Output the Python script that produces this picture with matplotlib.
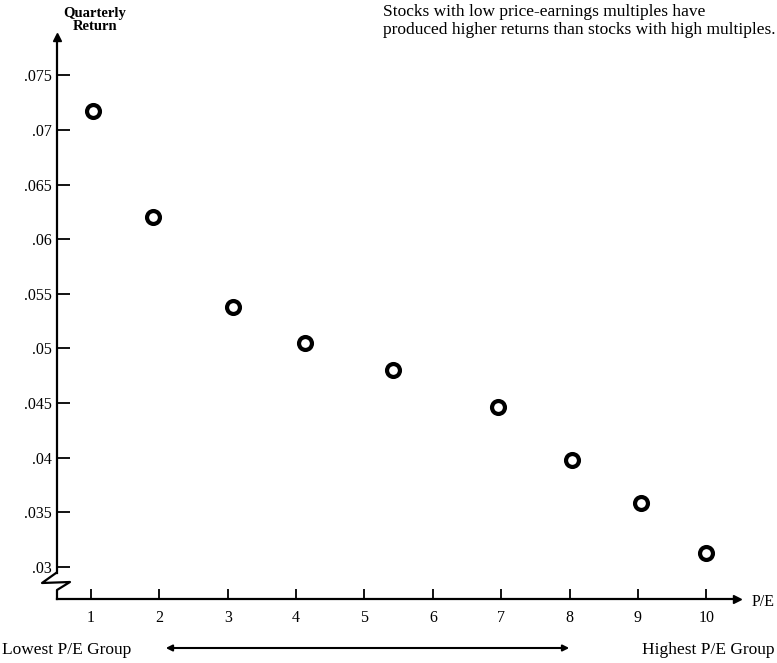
import matplotlib
matplotlib.use("Agg")
import matplotlib.pyplot as plt

# P/E group position and quarterly return
pe_group = [1.03, 1.90, 3.08, 4.13, 5.42, 6.96, 8.04, 9.05, 9.99]
quarterly_return = [0.0717, 0.0620, 0.0538, 0.0505, 0.0480, 0.0446, 0.0398, 0.0359, 0.0313]

x_ticks = [1, 2, 3, 4, 5, 6, 7, 8, 9, 10]
y_ticks = [0.03, 0.035, 0.04, 0.045, 0.05, 0.055, 0.06, 0.065, 0.07, 0.075]
y_labels = [".03", ".035", ".04", ".045", ".05", ".055", ".06", ".065", ".07", ".075"]

plt.rcParams["font.family"] = ["Liberation Serif", "DejaVu Serif"]

fig = plt.figure(figsize=(7.77, 6.63), dpi=100)
ax = fig.add_axes([57 / 777, 64 / 663, (737 - 57) / 777, (599 - 37) / 663])

ax.plot(pe_group, quarterly_return, "o", ms=9.3, mfc="white", mec="black", mew=3.0)

ax.set_xlim(0.502, 10.45)
ax.set_ylim(0.02707, 0.0785)

ax.set_xticks(x_ticks)
ax.set_xticklabels([str(t) for t in x_ticks], fontsize=11.5)
ax.set_yticks(y_ticks)
ax.set_yticklabels(y_labels, fontsize=11.5)
ax.tick_params(axis="x", direction="in", length=7, width=1.3, pad=8)
ax.tick_params(axis="y", direction="in", length=9, width=1.3, pad=4)

for s in ["top", "right"]:
    ax.spines[s].set_visible(False)
ax.spines["left"].set_linewidth(1.6)
ax.spines["bottom"].set_linewidth(1.6)
ax.spines["left"].set_bounds(0.02707 + 26 / 10933, 0.0785)

# arrow heads on the axes
ax.plot(1, 0, ">k", ms=6, transform=ax.transAxes, clip_on=False)
ax.plot(0, 1, "^k", ms=6, transform=ax.transAxes, clip_on=False)

# axis break zigzag (in pixels from the axes origin)
w, h = 680.0, 562.0
zx = [-1, -15, 13, 0, 0]
zy = [26, 16, 17, 9, 0]
ax.plot([v / w for v in zx], [v / h for v in zy], color="black", lw=1.6,
        transform=ax.transAxes, clip_on=False)

fig.text(95 / 777, 1 - 13 / 663, "Quarterly", ha="center", va="center", fontsize=10.5, weight="bold")
fig.text(95 / 777, 1 - 27 / 663, "Return", ha="center", va="center", fontsize=10.5, weight="bold")
fig.text(383 / 777, 1 - 12 / 663, "Stocks with low price-earnings multiples have",
         ha="left", va="center", fontsize=12.5)
fig.text(383 / 777, 1 - 30 / 663, "produced higher returns than stocks with high multiples.",
         ha="left", va="center", fontsize=12.5)
fig.text(752 / 777, 1 - 602 / 663, "P/E", ha="left", va="center", fontsize=11.5)

fig.text(2 / 777, 1 - 650 / 663, "Lowest P/E Group", ha="left", va="center", fontsize=12.5)
fig.text(775 / 777, 1 - 650 / 663, "Highest P/E Group", ha="right", va="center", fontsize=12.5)
fig.add_artist(matplotlib.patches.FancyArrowPatch(
    (163 / 777, 1 - 648 / 663), (572 / 777, 1 - 648 / 663),
    transform=fig.transFigure, arrowstyle="<|-|>", mutation_scale=9, lw=1.5, color="black"))

fig.savefig("out.png", dpi=100)
